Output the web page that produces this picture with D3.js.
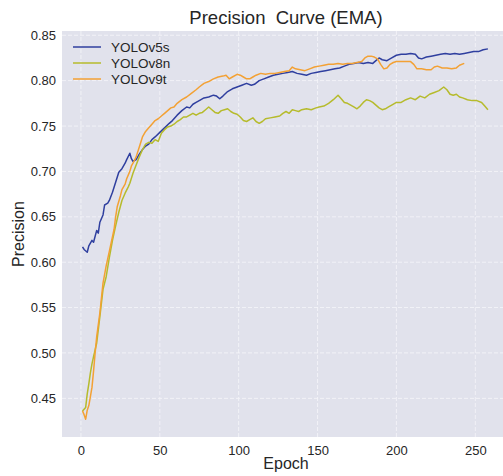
<!DOCTYPE html>
<html>
<head>
<meta charset="utf-8">
<script src="https://cdn.jsdelivr.net/npm/d3@7"></script>
<style>
  html, body { margin: 0; padding: 0; background: #fff; overflow: hidden; }
  text { font-family: "Liberation Sans", Arial, sans-serif; fill: #262626; }
</style>
</head>
<body>
<svg id="chart" width="503" height="476"></svg>
<script>
// values
const seriesNames = ['YOLOv5s', 'YOLOv8n', 'YOLOv9t'];
const seriesColors = ['#2f3f9f', '#b6bb2c', '#f3a134'];

const xTicks = [0, 50, 100, 150, 200, 250];
const yTicks = [0.45, 0.50, 0.55, 0.60, 0.65, 0.70, 0.75, 0.80, 0.85];

const epochsV5s = [1, 2, 4, 5, 7, 8, 10, 11, 12, 14, 15, 17, 18, 20, 22, 24, 26, 28, 29, 31, 32, 33, 35, 37, 39, 41, 43, 45, 47, 50,
  53, 56, 58, 61, 64, 67, 69, 71, 73, 75, 78, 81, 84, 86, 88, 90, 93, 96, 99, 102, 105, 108, 110, 113, 116, 119, 122, 125, 128, 131,
  134, 137, 140, 143, 146, 149, 152, 155, 158, 161, 164, 167, 170, 173, 176, 179, 182, 185, 187, 189, 191, 194, 197, 200, 203, 206,
  209, 212, 214, 216, 219, 222, 225, 228, 231, 234, 237, 240, 243, 246, 249, 252, 255, 258];
const precisionV5s = [0.617, 0.614, 0.611, 0.618, 0.624, 0.622, 0.635, 0.632, 0.644, 0.652, 0.663, 0.665, 0.668, 0.677, 0.688, 0.699,
  0.703, 0.709, 0.713, 0.720, 0.714, 0.711, 0.713, 0.719, 0.724, 0.728, 0.730, 0.735, 0.738, 0.743, 0.748, 0.753, 0.756, 0.762, 0.767,
  0.771, 0.770, 0.774, 0.776, 0.778, 0.781, 0.782, 0.784, 0.783, 0.780, 0.783, 0.788, 0.791, 0.793, 0.795, 0.797, 0.795, 0.796, 0.800,
  0.802, 0.804, 0.806, 0.807, 0.808, 0.809, 0.810, 0.808, 0.807, 0.806, 0.808, 0.809, 0.810, 0.811, 0.812, 0.813, 0.814, 0.816, 0.818,
  0.819, 0.820, 0.819, 0.820, 0.819, 0.822, 0.825, 0.823, 0.822, 0.825, 0.828, 0.829, 0.829, 0.830, 0.829, 0.825, 0.824, 0.826, 0.827,
  0.828, 0.829, 0.830, 0.829, 0.830, 0.829, 0.830, 0.831, 0.832, 0.832, 0.834, 0.835];

const epochsV8n = [1, 2, 3, 4, 5, 6, 7, 8, 10, 12, 14, 16, 18, 20, 22, 24, 26, 28, 30, 31, 33, 35, 37, 39, 41, 43, 45, 47, 49, 51,
  53, 55, 57, 59, 61, 63, 65, 67, 69, 71, 73, 75, 77, 79, 81, 83, 85, 87, 89, 91, 93, 95, 97, 99, 101, 103, 105, 107, 109, 111,
  113, 115, 117, 120, 123, 126, 128, 130, 132, 134, 136, 138, 140, 143, 146, 149, 151, 154, 157, 160, 163, 165, 167, 169, 171, 173,
  175, 177, 179, 181, 183, 185, 187, 189, 191, 193, 195, 197, 200, 203, 206, 209, 212, 215, 218, 221, 224, 227, 230, 232, 234, 236,
  238, 240, 242, 245, 248, 251, 254, 256, 258];
const precisionV8n = [0.436, 0.438, 0.440, 0.455, 0.466, 0.478, 0.488, 0.496, 0.511, 0.540, 0.570, 0.584, 0.605, 0.624, 0.640, 0.655,
  0.668, 0.676, 0.683, 0.687, 0.698, 0.707, 0.716, 0.724, 0.730, 0.732, 0.731, 0.735, 0.733, 0.742, 0.746, 0.749, 0.750, 0.752, 0.755,
  0.757, 0.760, 0.760, 0.762, 0.764, 0.762, 0.764, 0.765, 0.768, 0.771, 0.768, 0.765, 0.764, 0.767, 0.768, 0.769, 0.766, 0.764, 0.763,
  0.760, 0.756, 0.755, 0.757, 0.759, 0.755, 0.753, 0.755, 0.758, 0.759, 0.760, 0.761, 0.764, 0.766, 0.764, 0.768, 0.767, 0.766, 0.768,
  0.769, 0.768, 0.770, 0.771, 0.772, 0.775, 0.779, 0.784, 0.780, 0.776, 0.775, 0.773, 0.771, 0.769, 0.772, 0.776, 0.779, 0.778, 0.776,
  0.773, 0.770, 0.768, 0.769, 0.771, 0.773, 0.776, 0.776, 0.779, 0.781, 0.779, 0.783, 0.781, 0.785, 0.787, 0.789, 0.793, 0.790, 0.785,
  0.784, 0.785, 0.782, 0.781, 0.779, 0.778, 0.778, 0.776, 0.772, 0.768];

const epochsV9t = [1, 2, 3, 4, 5, 6, 7, 8, 9, 10, 12, 14, 16, 18, 20, 21, 22, 23, 25, 26, 28, 29, 31, 32, 33, 35, 37, 39, 41, 43,
  45, 47, 49, 51, 53, 55, 57, 59, 61, 64, 67, 70, 73, 75, 78, 81, 84, 87, 90, 92, 94, 96, 99, 101, 103, 105, 107, 109, 111, 114,
  117, 120, 123, 126, 129, 132, 134, 136, 139, 142, 145, 148, 151, 154, 157, 160, 163, 166, 169, 172, 175, 178, 180, 182, 184, 186,
  188, 190, 192, 194, 196, 198, 200, 203, 206, 209, 211, 213, 216, 219, 222, 224, 226, 229, 232, 235, 238, 240, 243];
const precisionV9t = [0.436, 0.432, 0.427, 0.437, 0.442, 0.452, 0.462, 0.480, 0.500, 0.518, 0.544, 0.577, 0.596, 0.612, 0.628, 0.636,
  0.650, 0.661, 0.673, 0.680, 0.686, 0.692, 0.700, 0.706, 0.709, 0.716, 0.727, 0.738, 0.744, 0.748, 0.752, 0.756, 0.758, 0.761, 0.764,
  0.767, 0.770, 0.771, 0.775, 0.779, 0.782, 0.786, 0.790, 0.793, 0.797, 0.799, 0.802, 0.804, 0.805, 0.806, 0.802, 0.804, 0.807, 0.806,
  0.804, 0.802, 0.802, 0.804, 0.806, 0.808, 0.807, 0.808, 0.808, 0.809, 0.810, 0.811, 0.815, 0.813, 0.812, 0.811, 0.813, 0.815, 0.816,
  0.817, 0.818, 0.818, 0.819, 0.818, 0.819, 0.819, 0.820, 0.821, 0.825, 0.827, 0.827, 0.826, 0.824, 0.818, 0.813, 0.814, 0.818, 0.820,
  0.821, 0.821, 0.821, 0.821, 0.818, 0.813, 0.813, 0.812, 0.812, 0.815, 0.816, 0.814, 0.814, 0.813, 0.814, 0.817, 0.819];

const allEpochs = [epochsV5s, epochsV8n, epochsV9t];
const allValues = [precisionV5s, precisionV8n, precisionV9t];

const margin = { top: 31, right: 0, bottom: 39, left: 62 };
const plotW = 448;   // axes run a little past the picture's right edge
const plotH = 476 - margin.top - margin.bottom;

const svg = d3.select('#chart');
const g = svg.append('g').attr('transform', `translate(${margin.left},${margin.top})`);

const x = d3.scaleLinear().domain([-12, 272]).range([0, plotW]);
const y = d3.scaleLinear().domain([0.4074, 0.8547]).range([plotH, 0]);

g.append('rect')
  .attr('width', plotW)
  .attr('height', plotH)
  .attr('fill', '#e1e2ec');

// grid
g.append('g')
  .selectAll('line.vgrid')
  .data(xTicks)
  .join('line')
  .attr('x1', (d) => x(d)).attr('x2', (d) => x(d))
  .attr('y1', 0).attr('y2', plotH)
  .attr('stroke', '#f4f4f8')
  .attr('stroke-width', 0.9)
  .attr('stroke-dasharray', '4,2');

g.append('g')
  .selectAll('line.hgrid')
  .data(yTicks)
  .join('line')
  .attr('x1', 0).attr('x2', plotW)
  .attr('y1', (d) => y(d)).attr('y2', (d) => y(d))
  .attr('stroke', '#f4f4f8')
  .attr('stroke-width', 0.9)
  .attr('stroke-dasharray', '4,2');

// axes (labels only, no lines)
const xAxis = g.append('g')
  .attr('transform', `translate(0,${plotH})`)
  .call(d3.axisBottom(x).tickValues(xTicks).tickSize(0).tickPadding(9).tickFormat(d3.format('d')));
const yAxis = g.append('g')
  .call(d3.axisLeft(y).tickValues(yTicks).tickSize(0).tickPadding(6).tickFormat(d3.format('.2f')));

[xAxis, yAxis].forEach((ax) => {
  ax.select('.domain').remove();
  ax.selectAll('text')
    .attr('fill', '#262626')
    .style('font-size', '13px')
    .style('font-family', '"Liberation Sans", Arial, sans-serif');
});

// curves
const line = d3.line()
  .x((d) => x(d[0]))
  .y((d) => y(d[1]));

seriesNames.forEach((name, i) => {
  const pts = allEpochs[i].map((e, k) => [e, allValues[i][k]]);
  g.append('path')
    .datum(pts)
    .attr('fill', 'none')
    .attr('stroke', seriesColors[i])
    .attr('stroke-width', 1.5)
    .attr('stroke-linejoin', 'round')
    .attr('d', line);
});

// legend
const legend = g.append('g').attr('transform', 'translate(11,16)');
seriesNames.forEach((name, i) => {
  const row = legend.append('g').attr('transform', `translate(0,${i * 16})`);
  row.append('line')
    .attr('x1', 0).attr('x2', 28)
    .attr('stroke', seriesColors[i])
    .attr('stroke-width', 1.5);
  row.append('text')
    .attr('x', 38)
    .attr('y', 4.5)
    .style('font-size', '13.5px')
    .text(name);
});

// titles
svg.append('text')
  .attr('x', margin.left + plotW / 2)
  .attr('y', 23.5)
  .attr('text-anchor', 'middle')
  .style('font-size', '18.5px')
  .text('Precision  Curve (EMA)')
  .attr('xml:space', 'preserve')
  .style('white-space', 'pre');

svg.append('text')
  .attr('x', margin.left + plotW / 2)
  .attr('y', 469)
  .attr('text-anchor', 'middle')
  .style('font-size', '16px')
  .text('Epoch');

svg.append('text')
  .attr('transform', `translate(24,${margin.top + plotH / 2}) rotate(-90)`)
  .attr('text-anchor', 'middle')
  .style('font-size', '16px')
  .text('Precision');
</script>
</body>
</html>
